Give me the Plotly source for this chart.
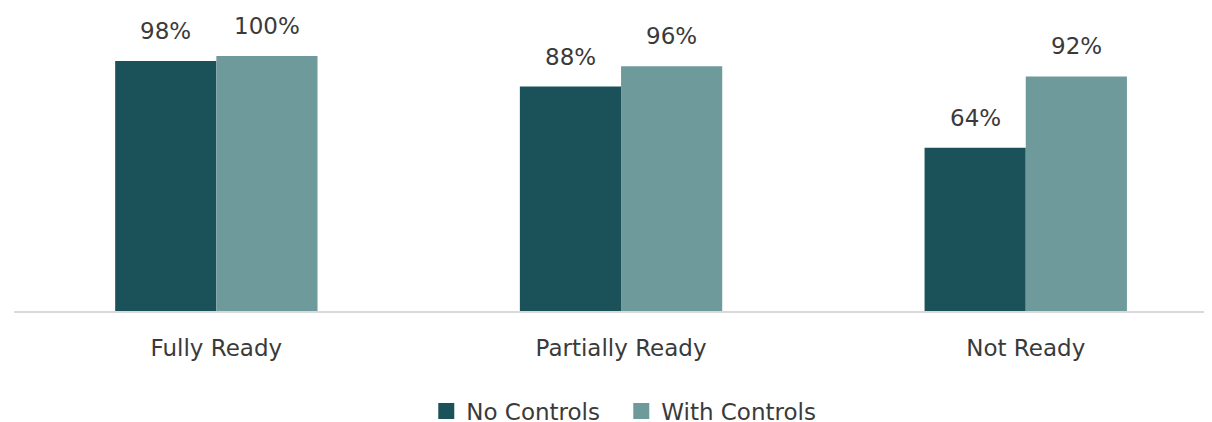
import plotly.graph_objects as go

categories = ["Fully Ready", "Partially Ready", "Not Ready"]
no_controls = [98, 88, 64]
with_controls = [100, 96, 92]
series_names = ["No Controls", "With Controls"]
colors = ["#1b525a", "#6f9a9b"]

font_family = "DejaVu Sans, Open Sans, sans-serif"
txt_color = "#3a3a3a"
fsize = 23

fig = go.Figure()
for name, vals, c in zip(series_names, [no_controls, with_controls], colors):
    fig.add_trace(go.Bar(x=categories, y=vals, name=name, showlegend=False,
                         marker=dict(color=c, line=dict(width=0))))
# legend entries with square markers
for name, c in zip(series_names, colors):
    fig.add_trace(go.Scatter(x=[None], y=[None], mode="markers", name=name,
                             marker=dict(symbol="square", size=18, color=c)))

# value labels
for i, cat in enumerate(categories):
    for vals, shift in [(no_controls, -50.6), (with_controls, 50.6)]:
        fig.add_annotation(x=cat, y=vals[i], text=f"{vals[i]}%", showarrow=False,
                           xshift=shift, yshift=15, yanchor="bottom",
                           font=dict(size=fsize, color=txt_color, family=font_family))

fig.update_layout(
    width=1212, height=422,
    margin=dict(l=6, r=0, t=48, b=119),
    plot_bgcolor="white", paper_bgcolor="white",
    barmode="group", bargap=0.5, bargroupgap=0,
    font=dict(family=font_family, size=fsize, color=txt_color),
    showlegend=True,
    legend=dict(orientation="h", x=0.506, xanchor="center", xref="container",
                y=0.045, yanchor="middle", yref="container",
                font=dict(size=fsize, color=txt_color), itemwidth=30, traceorder="normal",
                entrywidth=150, entrywidthmode="pixels"),
    xaxis=dict(range=[-0.5, 2.48], showline=True, linecolor="#d9d9d9", linewidth=2,
               ticks="outside", ticklen=15, tickcolor="rgba(0,0,0,0)",
               tickfont=dict(size=fsize, color=txt_color), showgrid=False),
    yaxis=dict(range=[0, 100], visible=False, showgrid=False),
)

fig.write_html("out.html")
